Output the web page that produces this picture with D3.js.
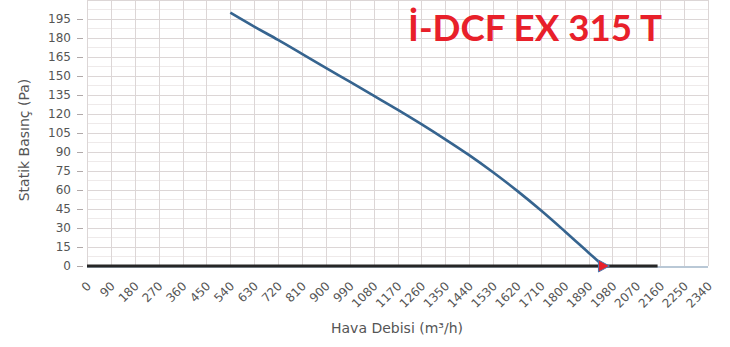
<!DOCTYPE html>
<html><head><meta charset="utf-8">
<script src="https://cdn.jsdelivr.net/npm/d3@7"></script>
<style>body{margin:0;background:#fff}svg{display:block}</style>
</head><body>
<script>
const xTicks = d3.range(0, 2341, 90);
const yTicks = d3.range(0, 196, 15);
const curveFlow = [540, 630, 720, 810, 900, 990, 1080, 1170, 1260, 1350, 1440, 1530, 1620, 1710, 1800, 1890, 1946];
const curvePressure = [200, 189, 178.5, 167.5, 156.5, 145.5, 134.5, 123.5, 112, 100, 87.5, 74, 59.5, 44, 27.5, 10.5, 0];
const zeroLineFlow = [0, 2150];
const zeroLinePressure = [0, 0];
const opPoint = [1946, 0];
const title = "İ-DCF EX 315 T";
const xTitle = "Hava Debisi (m³/h)";
const yTitle = "Statik Basınç (Pa)";

const W = 730, H = 347;
const svg = d3.select("body").append("svg").attr("width", W).attr("height", H);
const x = d3.scaleLinear().domain([0, 2340]).range([87, 708]);
const y = d3.scaleLinear().domain([0, 210]).range([266, 0]);
const font = "'DejaVu Sans', sans-serif";

// minor grid
svg.append("g").selectAll("line").data(d3.range(7.5, 210, 15)).join("line")
  .attr("x1", x(0)).attr("x2", x(2340)).attr("y1", d => y(d)).attr("y2", d => y(d))
  .attr("stroke", "#eeeaea").attr("stroke-width", 1);
// major grid
svg.append("g").selectAll("line").data(d3.range(15, 211, 15)).join("line")
  .attr("x1", x(0)).attr("x2", x(2340)).attr("y1", d => Math.round(y(d)) + 0.5).attr("y2", d => Math.round(y(d)) + 0.5)
  .attr("stroke", "#dcd6d6").attr("stroke-width", 1);
svg.append("g").selectAll("line").data(xTicks).join("line")
  .attr("x1", d => Math.round(x(d)) + 0.5).attr("x2", d => Math.round(x(d)) + 0.5).attr("y1", y(210)).attr("y2", y(0))
  .attr("stroke", "#dcd6d6").attr("stroke-width", 1);

// y axis
const yAxis = svg.append("g").attr("transform", "translate(83,0)")
  .call(d3.axisLeft(y).tickValues(yTicks).tickSize(6).tickPadding(6));
yAxis.select(".domain").remove();
yAxis.selectAll(".tick line").attr("stroke", "#b0a8a8");
yAxis.selectAll("text").attr("font-family", font).attr("font-size", 12).attr("fill", "#555");

// x axis line (faint)
svg.append("line").attr("x1", x(0)).attr("x2", x(2340)).attr("y1", y(0) + 1).attr("y2", y(0) + 1)
  .attr("stroke", "#b9c8d6").attr("stroke-width", 2);

// x tick labels
svg.append("g").selectAll("text").data(xTicks).join("text")
  .attr("transform", d => `translate(${x(d) + 2},${284}) rotate(-45)`)
  .attr("text-anchor", "end").attr("dominant-baseline", "central")
  .attr("font-family", font).attr("font-size", 12).attr("fill", "#555")
  .text(d => d);

// zero line series
const line = d3.line().x(d => x(d[0])).y(d => y(d[1]));
svg.append("path").datum(zeroLineFlow.map((f, i) => [f, zeroLinePressure[i]]))
  .attr("d", line).attr("fill", "none").attr("stroke", "#262626").attr("stroke-width", 3);

// fan curve
svg.append("path").datum(curveFlow.map((f, i) => [f, curvePressure[i]]))
  .attr("d", d3.line().x(d => x(d[0])).y(d => y(d[1])).curve(d3.curveCatmullRom))
  .attr("fill", "none").attr("stroke", "#36648f").attr("stroke-width", 2.6);

// operating point marker
const px = x(opPoint[0]), py = y(opPoint[1]);
svg.append("path").attr("d", `M${px - 5},${py - 6}L${px + 6},${py}L${px - 5},${py + 6}Z`)
  .attr("fill", "#e8202a").attr("stroke", "#4a78b0").attr("stroke-width", 1);

// titles
svg.append("text").attr("x", 408).attr("y", 41).attr("font-family", "Lato, sans-serif").attr("font-weight", 700)
  .attr("font-size", 36).attr("fill", "#e8202a").attr("textLength", 254).attr("lengthAdjust", "spacingAndGlyphs").text(title);
svg.append("text").attr("x", 397).attr("y", 333).attr("text-anchor", "middle")
  .attr("font-family", font).attr("font-size", 14).attr("fill", "#555").text(xTitle);
svg.append("text").attr("transform", "translate(29,140) rotate(-90)").attr("text-anchor", "middle")
  .attr("font-family", font).attr("font-size", 14).attr("fill", "#555").text(yTitle);
</script>
</body></html>
